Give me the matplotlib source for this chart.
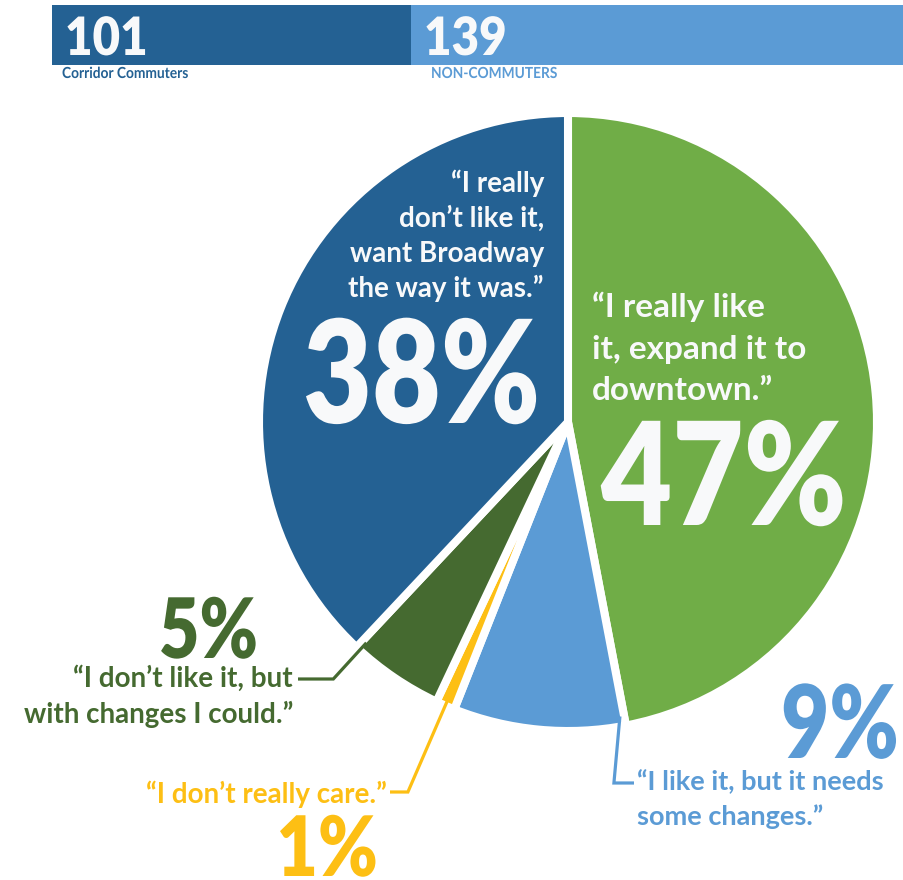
import matplotlib
matplotlib.use('Agg')
import matplotlib.pyplot as plt
from matplotlib.patheffects import AbstractPathEffect
from matplotlib.transforms import Affine2D
import numpy as np

plt.rcParams['font.family'] = ['Lato', 'DejaVu Sans']
plt.rcParams['font.weight'] = 'bold'

# ---------------- data ----------------
header_counts = [101, 139]
header_labels = ['Corridor Commuters', 'NON-COMMUTERS']
header_colors = ['#246193', '#5b9bd5']

shares = [47, 9, 1, 5, 38]
pct_labels = ['47%', '9%', '1%', '5%', '38%']
quotes = [
    ['\u201cI really like', 'it, expand it to', 'downtown.\u201d'],
    ['\u201cI like it, but it needs', 'some changes.\u201d'],
    ['\u201cI don\u2019t really care.\u201d'],
    ['\u201cI don\u2019t like it, but', 'with changes I could.\u201d'],
    ['\u201cI really', 'don\u2019t like it,', 'want Broadway', 'the way it was.\u201d'],
]
colors = ['#70ad47', '#5b9bd5', '#fdbf14', '#456a30', '#246193']

W, H = 904, 880
fig = plt.figure(figsize=(W / 100, H / 100), dpi=100)
ax = fig.add_axes([0, 0, 1, 1])


class HScale(AbstractPathEffect):
    """Squeeze glyphs horizontally around the text anchor (condensed look)."""

    def __init__(self, axes, x, y, sx):
        super().__init__()
        self.axes, self.x, self.y, self.sx = axes, x, y, sx

    def draw_path(self, renderer, gc, tpath, affine, rgbFace=None):
        x0 = self.axes.transData.transform((self.x, self.y))[0]
        t = affine + Affine2D().translate(-x0, 0).scale(self.sx, 1).translate(x0, 0)
        renderer.draw_path(gc, tpath, t, rgbFace)


def ctext(axes, x, y, s, sx=0.88, **kw):
    return axes.text(x, y, s, path_effects=[HScale(axes, x, y, sx)], **kw)


cx, cy, R = 568, 422, 309
wedges, _ = ax.pie(shares, colors=colors, startangle=-90, counterclock=True,
                   center=(cx, cy), radius=R,
                   wedgeprops=dict(edgecolor='white', linewidth=5.8, joinstyle='round'))
ax.set_xlim(0, W)
ax.set_ylim(H, 0)
ax.set_aspect('equal')
ax.axis('off')

WHITE = '#f8f9fa'

# ---- quotes ----
quote_layout = [
    dict(x=592, y=317, dy=41.5, ha='left', color=WHITE, size=24),
    dict(x=637, y=790, dy=35, ha='left', color=colors[1], size=19.5),
    dict(x=387, y=803, dy=0, ha='right', color=colors[2], size=20),
    dict(x=293, y=687, dy=36, ha='right', color=colors[3], size=20),
    dict(x=544, y=192, dy=35, ha='right', color=WHITE, size=20),
]
for lines, lay in zip(quotes, quote_layout):
    for i, line in enumerate(lines):
        ax.text(lay['x'], lay['y'] + i * lay['dy'], line, ha=lay['ha'], va='baseline',
                color=lay['color'], fontsize=lay['size'], fontweight='bold')

# ---- percentages ----
pct_layout = [
    dict(x=601, y=525, ha='left', color=WHITE, size=103, sx=0.86),
    dict(x=899, y=758, ha='right', color=colors[1], size=73, sx=0.82),
    dict(x=378, y=876, ha='right', color=colors[2], size=60, sx=0.86),
    dict(x=258, y=658, ha='right', color=colors[3], size=60, sx=0.84),
    dict(x=540, y=423, ha='right', color=WHITE, size=103, sx=0.83),
]
for txt, lay in zip(pct_labels, pct_layout):
    ctext(ax, lay['x'], lay['y'], txt, sx=lay['sx'], ha=lay['ha'], va='baseline',
          color=lay['color'], fontsize=lay['size'], fontweight='heavy')

# ---- leader lines (start on the wedges) ----
def unit(deg):
    return np.array([np.cos(np.radians(deg)), np.sin(np.radians(deg))])

rv = R - 4  # visible radius
# light blue: from the edge next to the green slice, down to the label
w = wedges[1]
p = np.array(w.center) + (rv - 6) * unit(w.theta1 + 0.8)
k = np.array([p[0] - 6, 783])
e = np.array([634, 783])
ax.plot([p[0], k[0], e[0]], [p[1], k[1], e[1]], color=colors[1], lw=2.3,
        solid_joinstyle='miter', solid_capstyle='butt')
# yellow: continue along mid radius
w = wedges[2]
tm = 0.5 * (w.theta1 + w.theta2)
u = unit(tm)
p = np.array(w.center) + (rv - 8) * u
t = (792 - w.center[1]) / u[1]
k = np.array(w.center) + t * u
e = np.array([390, 792])
ax.plot([p[0], k[0], e[0]], [p[1], k[1], e[1]], color=colors[2], lw=2.3,
        solid_joinstyle='miter', solid_capstyle='butt')
# dark green: along its outer edge next to the dark blue slice
w = wedges[3]
u = unit(w.theta2 - 0.8)
p = np.array(w.center) + (rv - 6) * u
t = (679 - w.center[1]) / u[1]
k = np.array(w.center) + t * u
e = np.array([298, 679])
ax.plot([p[0], k[0], e[0]], [p[1], k[1], e[1]], color=colors[3], lw=2.3,
        solid_joinstyle='miter', solid_capstyle='butt')

# ---------------- header bar ----------------
hx0, hy0, hy1 = 52, 5, 65
hax = fig.add_axes([hx0 / W, 1 - hy1 / H, (W - hx0) / W, (hy1 - hy0) / H])
hax.set_zorder(-1)
lefts = np.concatenate([[0], np.cumsum(header_counts)[:-1]])
hax.barh([0], header_counts, left=lefts, height=1.0, color=header_colors, linewidth=0)
hax.set_xlim(0, sum(header_counts))
hax.set_ylim(-0.5, 0.5)
hax.axis('off')

num_x = [65, 424]
lab_x = [62, 431]
for cnt, lab, col, nx, lx in zip(header_counts, header_labels, header_colors, num_x, lab_x):
    ctext(ax, nx, 55, str(cnt), sx=0.9, ha='left', va='baseline', color=WHITE,
          fontsize=38, fontweight='heavy')
    ctext(ax, lx, 78, lab, sx=0.9, ha='left', va='baseline', color=col,
          fontsize=11, fontweight='bold')

fig.savefig('out.png', dpi=100, facecolor='white')
